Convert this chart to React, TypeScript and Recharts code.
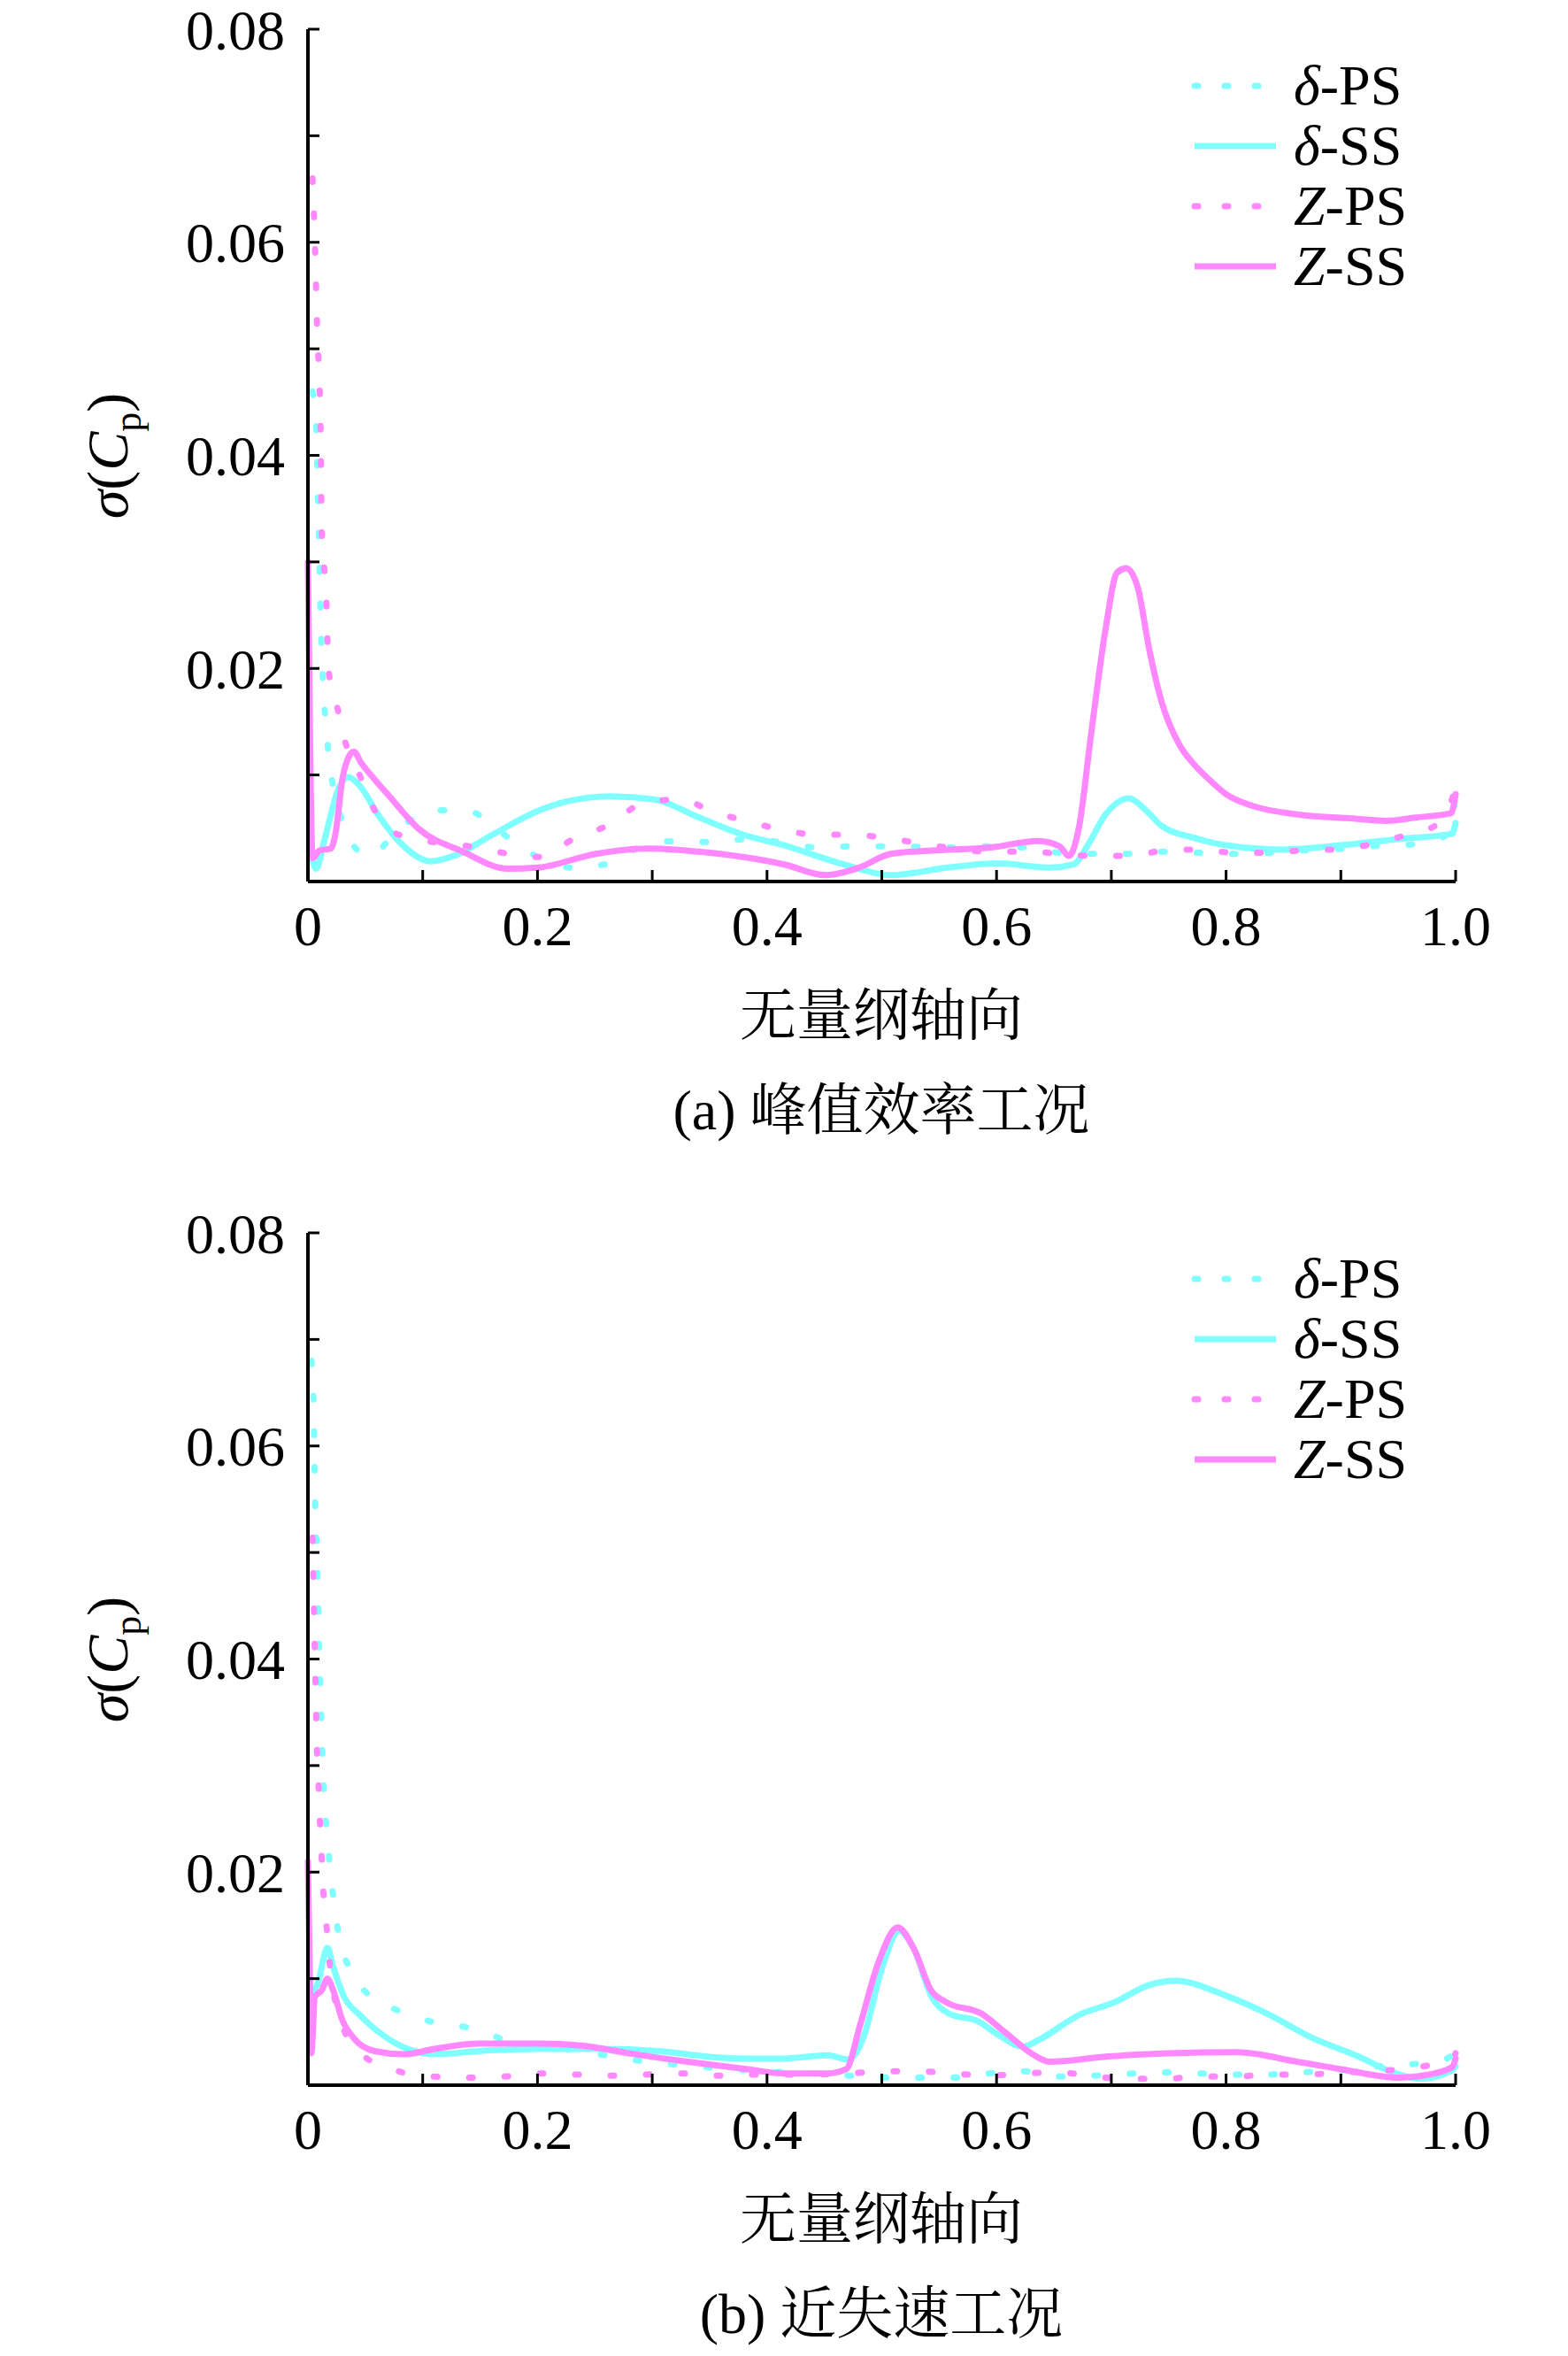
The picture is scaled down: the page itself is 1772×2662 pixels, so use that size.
import React from "react";
import { LineChart, Line, XAxis, YAxis } from "recharts";

const cyan = "#80ffff";
const pink = "#ff88ff";

// (a) 峰值效率工况
const aDeltaPSx = [0.004, 0.007, 0.009, 0.010, 0.011, 0.013, 0.016, 0.019, 0.026, 0.034, 0.053, 0.081, 0.109, 0.140, 0.171, 0.202, 0.231, 0.262, 0.293, 0.323, 0.354, 0.385, 0.445, 0.472, 0.503, 0.563, 0.594, 0.625, 0.655, 0.686, 0.716, 0.746, 0.775, 0.808, 0.837, 0.863, 0.892, 0.923, 0.952, 0.983, 0.997, 1.0];
const aDeltaPSy = [0.046, 0.043, 0.035, 0.030, 0.025, 0.019, 0.0143, 0.011, 0.0072, 0.0044, 0.0024, 0.0051, 0.0067, 0.0066, 0.0044, 0.0022, 0.0013, 0.0017, 0.0034, 0.0038, 0.0037, 0.0040, 0.0032, 0.0033, 0.0033, 0.0032, 0.0033, 0.0032, 0.0027, 0.0026, 0.0026, 0.0028, 0.0027, 0.0026, 0.0027, 0.0029, 0.0030, 0.0033, 0.0034, 0.0039, 0.0050, 0.0090];

const aDeltaSSx = [0.003, 0.007, 0.0146, 0.027, 0.035, 0.045, 0.061, 0.079, 0.107, 0.127, 0.161, 0.200, 0.225, 0.264, 0.302, 0.341, 0.379, 0.415, 0.467, 0.508, 0.557, 0.601, 0.647, 0.667, 0.680, 0.695, 0.715, 0.731, 0.744, 0.772, 0.800, 0.849, 0.900, 0.952, 0.997, 1.0];
const aDeltaSSy = [0.0025, 0.0012, 0.0040, 0.0088, 0.0098, 0.0090, 0.0063, 0.0038, 0.0019, 0.0024, 0.0044, 0.0066, 0.0075, 0.0080, 0.0077, 0.0060, 0.0044, 0.0034, 0.0016, 0.0006, 0.0013, 0.0017, 0.0013, 0.0016, 0.0035, 0.0063, 0.0078, 0.0066, 0.0052, 0.0041, 0.0034, 0.0030, 0.0034, 0.0040, 0.0045, 0.0055];

const aZPSx = [0.004, 0.006, 0.008, 0.011, 0.012, 0.016, 0.018, 0.025, 0.032, 0.045, 0.058, 0.079, 0.140, 0.202, 0.233, 0.262, 0.293, 0.324, 0.354, 0.385, 0.415, 0.445, 0.472, 0.503, 0.532, 0.595, 0.625, 0.685, 0.715, 0.746, 0.776, 0.807, 0.838, 0.862, 0.892, 0.922, 0.952, 0.983, 0.997, 1.0];
const aZPSy = [0.066, 0.060, 0.052, 0.0426, 0.033, 0.0265, 0.0198, 0.0166, 0.0133, 0.0100, 0.0067, 0.0044, 0.0033, 0.0023, 0.0041, 0.0053, 0.0074, 0.0077, 0.0065, 0.0056, 0.0048, 0.0044, 0.0044, 0.0041, 0.0036, 0.0028, 0.0028, 0.0024, 0.0024, 0.0029, 0.0030, 0.0027, 0.0027, 0.0029, 0.0030, 0.0034, 0.0042, 0.0053, 0.0078, 0.0090];

const aZSSx = [0.0, 0.002, 0.004, 0.010, 0.020, 0.024, 0.030, 0.036, 0.040, 0.046, 0.058, 0.071, 0.097, 0.135, 0.174, 0.200, 0.251, 0.297, 0.340, 0.379, 0.415, 0.451, 0.480, 0.508, 0.544, 0.595, 0.636, 0.655, 0.663, 0.672, 0.682, 0.695, 0.705, 0.713, 0.723, 0.733, 0.744, 0.759, 0.772, 0.785, 0.800, 0.823, 0.862, 0.913, 0.939, 0.965, 0.996, 1.0];
const aZSSy = [0.030, 0.012, 0.0022, 0.0029, 0.0031, 0.0045, 0.0096, 0.0118, 0.0122, 0.0112, 0.0096, 0.0080, 0.0049, 0.0028, 0.0012, 0.0013, 0.0026, 0.0031, 0.0028, 0.0023, 0.0016, 0.0006, 0.0013, 0.0026, 0.0029, 0.0032, 0.0038, 0.0033, 0.0024, 0.0052, 0.0135, 0.0237, 0.0290, 0.0294, 0.0276, 0.0218, 0.0168, 0.0129, 0.0110, 0.0096, 0.0082, 0.0071, 0.0063, 0.0059, 0.0057, 0.0060, 0.0064, 0.0082];

// (b) 近失速工况
const bDeltaPSx = [0.003, 0.005, 0.006, 0.0077, 0.009, 0.010, 0.0115, 0.0128, 0.014, 0.0167, 0.019, 0.023, 0.027, 0.038, 0.064, 0.079, 0.110, 0.140, 0.171, 0.220, 0.265, 0.295, 0.326, 0.357, 0.400, 0.440, 0.471, 0.500, 0.532, 0.562, 0.593, 0.624, 0.655, 0.685, 0.746, 0.777, 0.808, 0.837, 0.862, 0.891, 0.923, 0.953, 0.982, 0.997, 1.0];
const bDeltaPSy = [0.068, 0.0636, 0.056, 0.050, 0.045, 0.040, 0.035, 0.0303, 0.027, 0.0237, 0.0205, 0.017, 0.0139, 0.0107, 0.0077, 0.0070, 0.0059, 0.0054, 0.0043, 0.0035, 0.0027, 0.0022, 0.0019, 0.0016, 0.0013, 0.0011, 0.0009, 0.0007, 0.0007, 0.0007, 0.0011, 0.0013, 0.0008, 0.0009, 0.0012, 0.0011, 0.0010, 0.0010, 0.0012, 0.0013, 0.0017, 0.0019, 0.0022, 0.0028, 0.0039];

const bDeltaSSx = [0.002, 0.004, 0.009, 0.017, 0.022, 0.032, 0.045, 0.064, 0.087, 0.110, 0.149, 0.201, 0.253, 0.305, 0.357, 0.383, 0.415, 0.453, 0.471, 0.484, 0.500, 0.515, 0.528, 0.543, 0.559, 0.584, 0.602, 0.623, 0.636, 0.672, 0.703, 0.733, 0.756, 0.800, 0.836, 0.874, 0.913, 0.951, 0.969, 0.997, 1.0];
const bDeltaSSy = [0.0040, 0.0083, 0.0097, 0.0129, 0.0111, 0.0082, 0.0066, 0.0048, 0.0034, 0.0029, 0.0032, 0.0034, 0.0034, 0.0032, 0.0026, 0.0025, 0.0025, 0.0028, 0.0024, 0.0045, 0.0109, 0.0145, 0.0128, 0.0084, 0.0067, 0.0060, 0.0047, 0.0036, 0.0042, 0.0066, 0.0078, 0.0094, 0.0098, 0.0084, 0.0067, 0.0045, 0.0028, 0.0010, 0.0006, 0.0014, 0.0018];

const bZPSx = [0.004, 0.005, 0.0064, 0.0077, 0.009, 0.010, 0.0115, 0.0128, 0.0154, 0.018, 0.028, 0.047, 0.079, 0.110, 0.140, 0.171, 0.204, 0.234, 0.265, 0.295, 0.326, 0.357, 0.383, 0.420, 0.471, 0.502, 0.532, 0.562, 0.593, 0.624, 0.655, 0.685, 0.715, 0.746, 0.777, 0.808, 0.837, 0.862, 0.891, 0.923, 0.953, 0.982, 0.997, 1.0];
const bZPSy = [0.0514, 0.046, 0.0387, 0.032, 0.029, 0.0258, 0.0226, 0.0192, 0.016, 0.0125, 0.0062, 0.0029, 0.0013, 0.0008, 0.0007, 0.0008, 0.0011, 0.0010, 0.0009, 0.0010, 0.0011, 0.0009, 0.0010, 0.0010, 0.0011, 0.0013, 0.0013, 0.0011, 0.0009, 0.0011, 0.0012, 0.0008, 0.0006, 0.0006, 0.0008, 0.0008, 0.0010, 0.0010, 0.0011, 0.0013, 0.0015, 0.0020, 0.0025, 0.0030];

const bZSSx = [0.0, 0.002, 0.003, 0.006, 0.012, 0.017, 0.022, 0.030, 0.040, 0.058, 0.084, 0.110, 0.149, 0.201, 0.240, 0.279, 0.331, 0.383, 0.415, 0.453, 0.469, 0.481, 0.497, 0.514, 0.528, 0.543, 0.556, 0.587, 0.607, 0.633, 0.646, 0.697, 0.749, 0.810, 0.862, 0.900, 0.951, 0.977, 0.997, 1.0];
const bZSSy = [0.021, 0.008, 0.0030, 0.0083, 0.0089, 0.0100, 0.0089, 0.0061, 0.0044, 0.0032, 0.0029, 0.0034, 0.0039, 0.0039, 0.0037, 0.0030, 0.0022, 0.0015, 0.0011, 0.0011, 0.0015, 0.0056, 0.0115, 0.0148, 0.0128, 0.0089, 0.0078, 0.0067, 0.0050, 0.0028, 0.0022, 0.0027, 0.0030, 0.0031, 0.0022, 0.0015, 0.0007, 0.0010, 0.0017, 0.0025];

const xTicks = [0, 0.1, 0.2, 0.3, 0.4, 0.5, 0.6, 0.7, 0.8, 0.9, 1.0];
const xTickLabels = ["0", "", "0.2", "", "0.4", "", "0.6", "", "0.8", "", "1.0"];
const yTicks = [0.01, 0.02, 0.03, 0.04, 0.05, 0.06, 0.07, 0.08];
const yTickLabels = ["", "", "0.02", "", "0.04", "", "0.06", "", "0.08"];

const serif = "'Liberation Serif', 'Times New Roman', serif";
const cjk = "'Liberation Serif', 'Noto Serif CJK SC', 'Noto Sans CJK SC', serif";

type Series = { name: string; prefix: string; x: number[]; y: number[]; color: string; dotted: boolean };

const toRows = (xs: number[], ys: number[]) => xs.map((x, i) => ({ x, y: ys[i] }));

const seriesA: Series[] = [
  { name: "δ-PS", prefix: "δ", x: aDeltaPSx, y: aDeltaPSy, color: cyan, dotted: true },
  { name: "δ-SS", prefix: "δ", x: aDeltaSSx, y: aDeltaSSy, color: cyan, dotted: false },
  { name: "Z-PS", prefix: "Z", x: aZPSx, y: aZPSy, color: pink, dotted: true },
  { name: "Z-SS", prefix: "Z", x: aZSSx, y: aZSSy, color: pink, dotted: false },
];
const seriesB: Series[] = [
  { name: "δ-PS", prefix: "δ", x: bDeltaPSx, y: bDeltaPSy, color: cyan, dotted: true },
  { name: "δ-SS", prefix: "δ", x: bDeltaSSx, y: bDeltaSSy, color: cyan, dotted: false },
  { name: "Z-PS", prefix: "Z", x: bZPSx, y: bZPSy, color: pink, dotted: true },
  { name: "Z-SS", prefix: "Z", x: bZSSx, y: bZSSy, color: pink, dotted: false },
];

const W = 1772;
const H = 1331;

const LegendBox = ({ series, top }: { series: Series[]; top: number }) => (
  <div style={{ position: "absolute", left: 1342, top, fontFamily: serif, fontSize: 64 }}>
    {series.map((s) => (
      <div key={s.name} style={{ display: "flex", alignItems: "center", height: 68 }}>
        <svg width={104} height={20} style={{ marginRight: 16 }}>
          <line x1={8} y1={10} x2={100} y2={10} stroke={s.color} strokeWidth={7}
            strokeDasharray={s.dotted ? "4 30" : undefined} strokeLinecap={s.dotted ? "round" : "butt"} />
        </svg>
        <span style={{ lineHeight: "68px" }}>
          <i>{s.prefix}</i>{s.name.slice(1)}
        </span>
      </div>
    ))}
  </div>
);

const Panel = ({ series, plotTop, legendTop, title, caption }:
  { series: Series[]; plotTop: number; legendTop: number; title: string; caption: string }) => {
  const plotBottom = plotTop + 963;
  return (
    <div style={{ position: "relative", width: W, height: H }}>
      <LineChart width={W} height={H} margin={{ top: plotTop, right: 127, left: 248, bottom: H - plotBottom - 100 }}>
        <XAxis dataKey="x" type="number" domain={[0, 1]} ticks={xTicks} interval={0}
          tickFormatter={(v: number) => xTickLabels[Math.round(v * 10)]}
          height={100} tickSize={-13} tickMargin={40}
          axisLine={{ stroke: "#000", strokeWidth: 4 }} tickLine={{ stroke: "#000", strokeWidth: 3 }}
          tick={{ fill: "#000", fontSize: 64, fontFamily: serif }} />
        <YAxis type="number" domain={[0, 0.08]} ticks={yTicks} interval={0}
          tickFormatter={(v: number) => yTickLabels[Math.round(v * 100)]}
          width={100} tickSize={-13} tickMargin={39}
          axisLine={{ stroke: "#000", strokeWidth: 4 }} tickLine={{ stroke: "#000", strokeWidth: 3 }}
          tick={{ fill: "#000", fontSize: 64, fontFamily: serif }} />
        {series.map((s) => (
          <Line key={s.name} data={toRows(s.x, s.y)} dataKey="y" name={s.name} type="monotone"
            stroke={s.color} strokeWidth={7}
            strokeDasharray={s.dotted ? "4 36" : undefined} strokeLinecap="round"
            dot={false} activeDot={false} isAnimationActive={false} />
        ))}
      </LineChart>
      <LegendBox series={series} top={legendTop} />
      <div style={{ position: "absolute", left: 127, top: (plotTop + plotBottom) / 2, transform: "translate(-50%, -50%) rotate(-90deg)",
        fontFamily: serif, fontSize: 66, whiteSpace: "nowrap" }}>
        <i>σ</i>(<i>C</i><sub style={{ fontSize: 44 }}>p</sub>)
      </div>
      <div style={{ position: "absolute", left: 596, width: 800, top: plotBottom + 117, textAlign: "center",
        fontFamily: cjk, fontSize: 64, lineHeight: "70px" }}>{title}</div>
      <div style={{ position: "absolute", left: 596, width: 800, top: plotBottom + 224, textAlign: "center",
        fontFamily: cjk, fontSize: 64, lineHeight: "70px" }}>{caption}</div>
    </div>
  );
};

export default function App() {
  return (
    <div style={{ width: W, height: 2662, background: "#fff" }}>
      <style>{"body{margin:0}"}</style>
      <Panel series={seriesA} plotTop={33} legendTop={63} title="无量纲轴向" caption="(a) 峰值效率工况" />
      <Panel series={seriesB} plotTop={62} legendTop={80} title="无量纲轴向" caption="(b) 近失速工况" />
    </div>
  );
}
